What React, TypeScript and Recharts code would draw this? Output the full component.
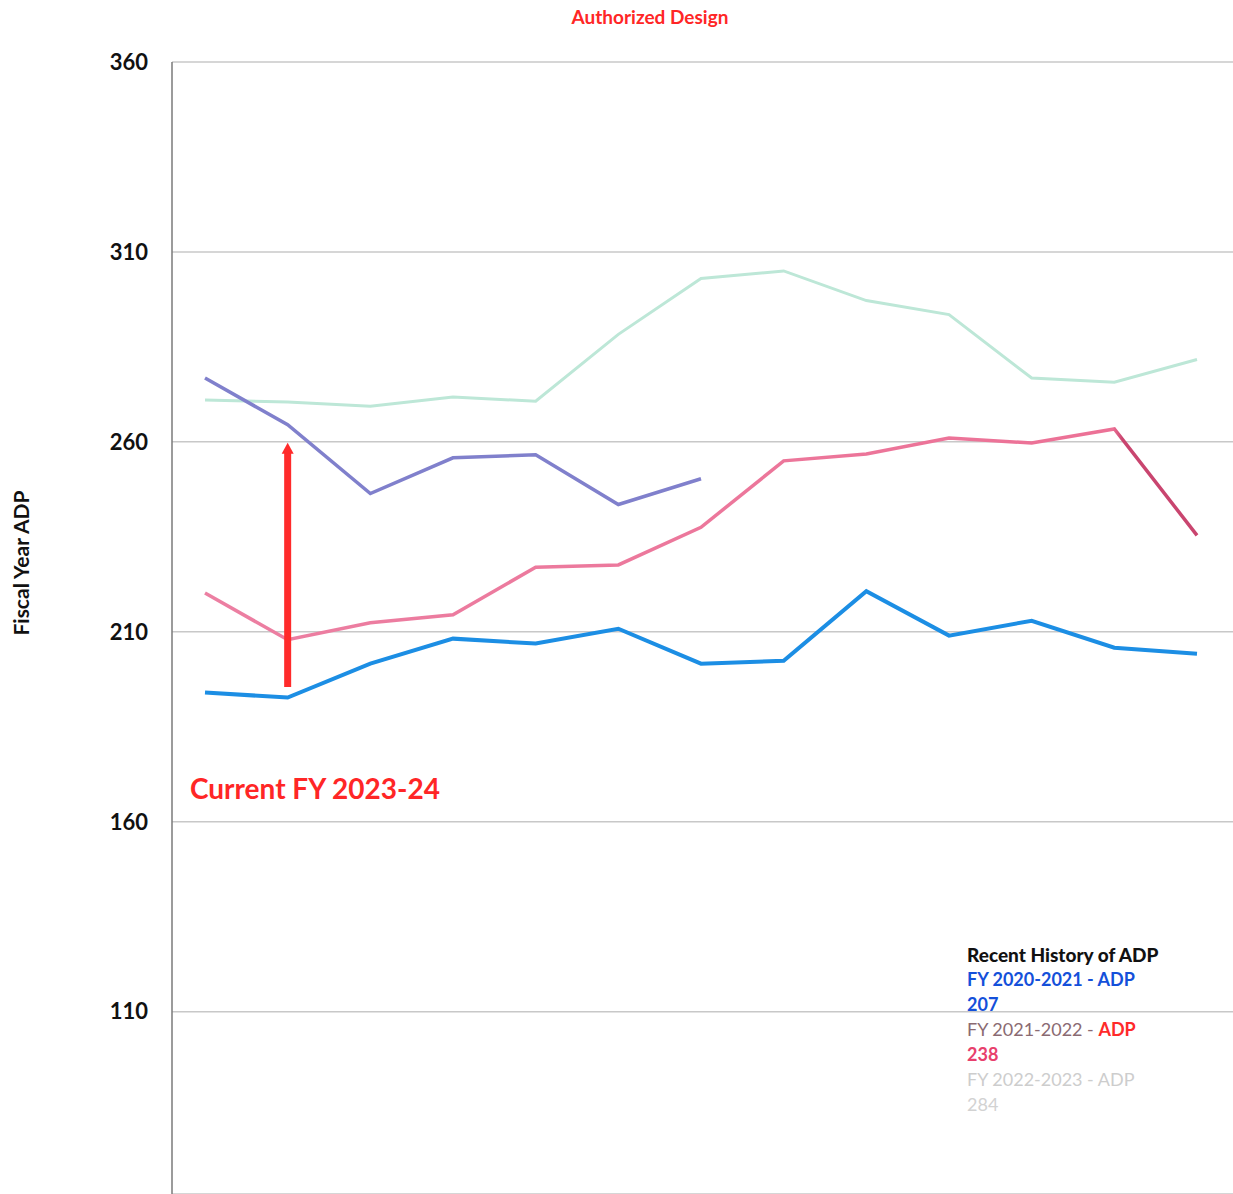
import React from "react";
import {
  LineChart,
  Line,
  XAxis,
  YAxis,
  CartesianGrid,
  ReferenceLine,
  ReferenceDot,
} from "recharts";

const months = ["M1", "M2", "M3", "M4", "M5", "M6", "M7", "M8", "M9", "M10", "M11", "M12", "M13"];
const fy2021 = [194, 192.7, 201.6, 208.2, 206.9, 210.8, 201.6, 202.4, 220.7, 209, 212.9, 205.8, 204.2];
const fy2122 = [220.2, 207.9, 212.4, 214.5, 227, 227.6, 237.5, 255, 256.8, 261, 259.7, 263.4, 235.4];
const fy2223 = [271, 270.5, 269.4, 271.8, 270.7, 288.3, 303, 305, 297.2, 293.5, 276.8, 275.7, 281.7];
const fy2324: (number | null)[] = [276.8, 264.5, 246.4, 255.8, 256.6, 243.5, 250.3, null, null, null, null, null, null];
const yTicks = [110, 160, 210, 260, 310, 360];

const data = months.map((m, i) => ({
  idx: i,
  month: m,
  a: fy2021[i],
  b: fy2122[i],
  c: fy2223[i],
  d: fy2324[i],
}));

const FONT = "Lato, 'Open Sans', sans-serif";

const ArrowHead = (props: any) => {
  const { cx, cy } = props;
  if (cx == null || cy == null) return null;
  return <path d={`M${cx - 6},${cy + 10} L${cx},${cy - 1} L${cx + 6},${cy + 10} Z`} fill="#ff2b2b" />;
};

export default function App() {
  return (
    <div style={{ position: "absolute", left: 0, top: 0, width: 1233, height: 1194, background: "#fff", fontFamily: FONT, overflow: "hidden" }}>
      <LineChart
        width={1233}
        height={1194}
        data={data}
        margin={{ top: 62, right: 0, bottom: 0, left: 0 }}
      >
        <defs>
          <linearGradient id="pinkGrad" x1="0" y1="0" x2="1" y2="0">
            <stop offset="0" stopColor="#ec7fa2" />
            <stop offset="0.915" stopColor="#ec7196" />
            <stop offset="0.925" stopColor="#c9456f" />
            <stop offset="1" stopColor="#c9456f" />
          </linearGradient>
        </defs>
        <CartesianGrid vertical={false} stroke="#c8c8c8" strokeWidth={1.5} />
        <XAxis dataKey="idx" type="number" domain={[0, 12]} hide padding={{ left: 33, right: 36 }} />
        <YAxis
          type="number"
          domain={[62, 360]}
          ticks={yTicks}
          width={172}
          tickLine={false}
          tickSize={0}
          tickMargin={24}
          axisLine={{ stroke: "#7a7a7a", strokeWidth: 1.5 }}
          tick={{ fill: "#111", fontSize: 22, fontWeight: 700, fontFamily: FONT }}
        />
        <Line type="linear" dataKey="c" stroke="#bde7d7" strokeWidth={3} dot={false} isAnimationActive={false} />
        <Line type="linear" dataKey="b" stroke="url(#pinkGrad)" strokeWidth={3.5} dot={false} isAnimationActive={false} />
        <Line type="linear" dataKey="a" stroke="#1c8ee4" strokeWidth={4} dot={false} isAnimationActive={false} />
        <Line type="linear" dataKey="d" stroke="#8080cc" strokeWidth={3.5} dot={false} isAnimationActive={false} connectNulls={false} />
        <ReferenceLine
          segment={[{ x: 1, y: 195.5 }, { x: 1, y: 257.5 }]}
          stroke="#ff2b2b"
          strokeWidth={7}
        />
        <ReferenceDot x={1} y={259.5} r={6} shape={ArrowHead} />
      </LineChart>

      <div style={{ position: "absolute", left: 0, width: 1300, top: 5, textAlign: "center", color: "#ff2626", fontWeight: 700, fontSize: 19 }}>
        Authorized Design
      </div>

      <div
        style={{
          position: "absolute",
          left: 20,
          top: 563,
          transform: "translate(-50%, -50%) rotate(-90deg)",
          whiteSpace: "nowrap",
          fontWeight: 700,
          fontSize: 21,
          color: "#111",
        }}
      >
        Fiscal Year ADP
      </div>

      <div style={{ position: "absolute", left: 190, top: 771, color: "#ff2626", fontWeight: 700, fontSize: 28, whiteSpace: "nowrap" }}>
        Current FY 2023-24
      </div>

      <div style={{ position: "absolute", left: 967, top: 942, fontSize: 18, lineHeight: "25px", whiteSpace: "nowrap" }}>
        <div style={{ color: "#111", fontWeight: 900, fontSize: 19 }}>Recent History of ADP</div>
        <div style={{ color: "#1450da", fontWeight: 700 }}>FY 2020-2021 - ADP</div>
        <div style={{ color: "#1450da", fontWeight: 700 }}>207</div>
        <div style={{ color: "#8a6a72" }}>
          FY 2021-2022 - <span style={{ color: "#ff2a2a", fontWeight: 700 }}>ADP</span>
        </div>
        <div style={{ color: "#e8406c", fontWeight: 700 }}>238</div>
        <div style={{ color: "#cdcdcd" }}>FY 2022-2023 - ADP</div>
        <div style={{ color: "#d2d2d2" }}>284</div>
      </div>
    </div>
  );
}
